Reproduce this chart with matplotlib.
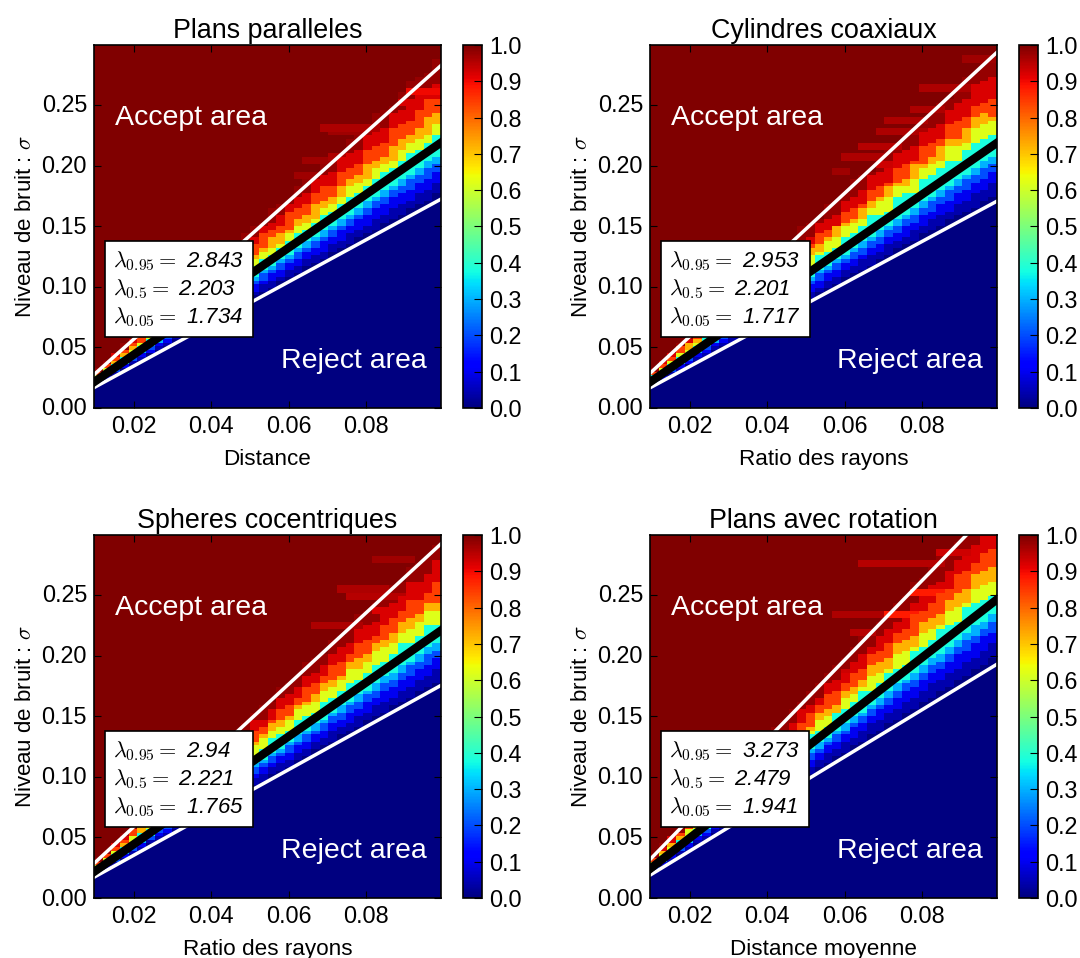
import numpy as np
import matplotlib
matplotlib.use('Agg')
import matplotlib.pyplot as plt
from matplotlib.transforms import ScaledTranslation

plt.rcParams['font.family'] = ['Liberation Sans', 'DejaVu Sans']
plt.rcParams['mathtext.fontset'] = 'cm'

titles = ['Plans paralleles', 'Cylindres coaxiaux', 'Spheres cocentriques', 'Plans avec rotation']
xlabels = ['Distance', 'Ratio des rayons', 'Ratio des rayons', 'Distance moyenne']

lambda_95 = [2.843, 2.953, 2.94, 3.273]
lambda_50 = [2.203, 2.201, 2.221, 2.479]
lambda_05 = [1.734, 1.717, 1.765, 1.941]
lambda_txt = [['2.843', '2.203', '1.734'], ['2.953', '2.201', '1.717'],
              ['2.94', '2.221', '1.765'], ['3.273', '2.479', '1.941']]

xticks = [0.02, 0.04, 0.06, 0.08]
yticks = [0.0, 0.05, 0.10, 0.15, 0.20, 0.25]
cticks = [0.0, 0.1, 0.2, 0.3, 0.4, 0.5, 0.6, 0.7, 0.8, 0.9, 1.0]

# acceptance level of each band, lists below give the sigma row (0.003 per row)
# where the band starts in each of the 40 columns
levels = [0.04, 0.10, 0.20, 0.30, 0.38, 0.62, 0.72, 0.84, 0.92, 0.98, 1.0]

rows_a = [
    [7,8,9,11,12,13,15,16,17,19,20,21,23,24,25,27,28,29,31,32,33,35,36,37,39,40,41,43,44,45,47,48,49,51,52,53,55,56,57,59],
    [7,8,10,11,13,14,15,17,18,20,21,22,24,25,27,28,29,31,32,34,35,36,38,39,41,42,43,45,46,48,49,50,52,53,55,56,57,59,60,62],
    [7,9,10,12,13,15,16,18,19,21,22,24,25,26,28,29,31,32,34,35,37,38,40,41,43,44,46,47,49,50,52,53,55,56,58,59,60,62,63,65],
    [8,9,11,12,14,15,17,18,20,21,23,24,26,27,29,30,32,34,35,37,38,40,41,43,44,46,47,49,50,52,53,55,57,58,60,61,63,64,66,67],
    [8,9,11,12,14,16,17,19,20,22,24,25,27,28,30,31,33,35,36,38,39,41,42,44,46,47,49,50,52,53,55,57,58,60,61,63,64,66,68,69],
    [8,10,12,14,15,17,19,20,22,24,25,27,29,31,32,34,36,37,39,41,42,44,46,48,49,51,53,54,56,58,59,61,63,65,66,68,70,71,73,75],
    [9,11,12,14,16,18,20,21,23,24,27,28,30,31,34,35,37,38,41,43,44,45,48,50,51,52,55,56,58,61,62,63,66,67,68,71,73,74,75,78],
    [9,11,13,15,17,18,20,22,25,26,27,30,31,33,36,37,38,41,42,44,47,48,49,52,53,56,57,58,61,63,64,67,68,69,72,74,75,77,80,81],
    [10,12,14,16,18,20,21,24,25,27,30,31,32,36,37,39,42,42,45,48,49,50,54,55,56,59,61,61,65,66,67,71,72,73,77,78,79,82,85,85],
    [10,12,15,16,19,20,23,25,28,29,31,34,35,37,40,41,43,46,47,50,51,53,56,58,59,63,64,65,69,70,71,75,76,77,81,82,83,87,88,89],
    [11,13,15,18,19,22,24,26,29,30,32,35,37,38,42,43,45,48,50,51,55,56,57,61,63,64,68,69,70,74,76,77,81,82,83,87,90,91,92,96],
]
rows_b = [
    [7,8,9,10,12,13,14,16,17,18,19,21,22,24,25,26,28,29,30,32,33,34,36,37,38,39,41,42,44,45,46,48,49,50,52,53,54,55,57,58],
    [7,8,10,11,12,14,15,17,18,20,21,22,24,25,27,28,29,31,32,33,35,36,38,39,41,42,43,45,46,47,49,50,52,53,54,56,57,59,60,62],
    [7,9,10,12,13,15,16,18,19,20,22,23,25,26,28,29,31,32,34,35,37,38,40,41,42,44,45,47,48,50,51,53,54,56,57,59,60,62,63,65],
    [8,9,11,12,14,15,17,18,20,21,23,24,26,27,29,30,32,34,35,37,38,40,41,43,44,46,47,49,50,52,53,55,57,58,60,61,63,64,66,67],
    [8,9,11,12,14,16,17,19,20,22,24,25,27,28,30,31,33,35,36,38,39,41,42,44,46,47,49,50,52,53,55,57,58,60,61,63,64,66,68,69],
    [9,10,12,14,15,17,20,21,22,24,27,27,29,32,33,33,37,38,39,42,43,44,47,48,50,53,53,54,58,59,59,63,64,66,68,68,71,73,74,75],
    [9,11,13,15,16,18,21,22,24,26,27,30,31,33,36,36,38,41,42,43,46,47,50,51,52,55,57,58,61,61,63,66,67,68,72,72,73,77,78,79],
    [9,11,13,15,18,19,21,23,25,26,28,31,32,33,37,37,40,41,44,45,47,50,51,52,55,57,58,61,62,63,67,67,69,72,74,74,77,80,81,80],
    [10,12,14,17,18,20,23,23,26,27,30,31,33,36,37,39,42,43,45,48,49,50,54,55,56,60,61,62,66,67,68,72,73,74,78,79,80,83,84,85],
    [10,13,15,17,19,22,23,25,28,29,32,33,35,39,40,41,45,46,47,51,52,53,57,58,60,64,65,66,70,71,72,76,77,78,82,84,85,89,90,91],
    [11,13,15,18,20,23,24,26,30,31,33,36,37,39,43,44,46,50,51,52,56,57,59,63,64,65,69,71,72,76,77,79,83,84,85,89,91,92,96,97],
]
rows_c = [
    [7,8,9,11,12,13,15,16,17,19,20,22,23,24,26,27,28,30,31,32,34,35,36,38,39,41,42,43,45,46,47,49,50,51,53,54,55,57,58,59],
    [7,8,10,11,13,14,16,17,18,20,21,23,24,26,27,28,30,31,33,34,36,37,38,40,41,43,44,46,47,48,50,51,53,54,55,57,58,60,61,63],
    [7,9,10,12,13,15,16,18,19,21,22,24,25,27,28,30,31,33,34,36,37,39,40,42,43,45,46,48,49,51,52,54,55,57,58,60,61,63,64,66],
    [8,9,11,12,14,15,17,19,20,22,23,25,26,28,29,31,32,34,36,37,39,40,42,43,45,46,48,50,51,53,54,56,57,59,60,62,64,65,67,68],
    [8,9,11,13,14,16,17,19,21,22,24,25,27,29,30,32,33,35,37,38,40,41,43,45,46,48,49,51,53,54,56,57,59,61,62,64,65,67,69,70],
    [8,10,12,14,15,18,19,21,23,24,26,28,29,31,34,34,36,39,39,41,44,45,46,49,50,51,54,55,57,59,60,62,64,65,67,70,70,72,75,75],
    [9,11,13,14,17,18,20,22,25,25,27,30,31,33,36,36,38,41,42,44,46,47,49,52,53,54,57,58,60,63,63,65,68,69,70,73,74,76,79,79],
    [9,11,13,15,17,20,21,22,25,26,28,31,32,34,36,38,39,42,43,45,48,49,50,53,54,56,59,60,61,65,66,67,70,71,73,76,77,78,81,81],
    [10,12,14,16,19,20,22,24,26,27,30,31,34,35,37,40,41,43,46,47,49,52,53,55,58,59,61,64,65,67,70,71,72,75,77,79,82,82,84,87],
    [10,12,15,17,19,21,24,25,27,30,31,33,36,37,39,42,43,45,49,49,52,55,56,58,61,62,64,67,69,70,74,75,76,80,81,83,87,87,89,93],
    [11,13,15,18,20,22,25,26,28,32,33,35,38,39,41,45,46,48,51,53,54,58,59,61,65,66,67,71,72,74,78,79,81,84,86,87,91,92,94,97],
]
rows_d = [
    [7,9,10,12,13,15,16,18,19,21,22,24,25,27,28,30,31,33,34,36,37,39,40,42,43,45,46,48,49,51,52,54,55,57,58,60,61,63,64,66],
    [8,9,11,13,14,16,17,19,21,22,24,25,27,29,30,32,33,35,36,38,40,41,43,44,46,48,49,51,52,54,55,57,59,60,62,63,65,66,68,70],
    [8,10,12,13,15,17,18,20,22,23,25,27,28,30,32,33,35,37,38,40,42,43,45,47,48,50,52,53,55,57,58,60,62,63,65,67,68,70,72,73],
    [9,10,12,14,15,17,19,21,22,24,26,27,29,31,33,34,36,38,40,41,43,45,46,48,50,52,53,55,57,59,60,62,64,65,67,69,71,72,74,76],
    [9,11,12,14,16,18,19,21,23,25,27,28,30,32,34,35,37,39,41,43,44,46,48,50,51,53,55,57,59,60,62,64,66,67,69,71,73,75,76,78],
    [9,11,13,16,17,19,22,23,25,28,29,31,34,34,36,39,40,42,45,46,47,51,52,54,57,57,59,62,63,64,68,69,71,74,75,76,80,81,82,83],
    [10,12,14,16,19,20,22,25,26,28,31,32,34,37,38,40,43,44,46,49,50,51,55,56,58,61,62,63,67,68,69,73,74,75,79,80,81,85,86,87],
    [10,13,15,17,19,22,23,25,28,29,32,33,35,39,40,41,45,46,47,51,52,53,57,58,60,64,65,66,70,71,72,76,77,78,82,84,85,89,90,91],
    [11,13,15,18,20,23,24,26,29,31,34,35,37,40,42,45,46,48,51,53,56,57,59,62,63,67,68,70,73,74,78,79,81,84,85,89,90,92,95,96],
    [11,14,17,18,21,24,25,28,31,32,35,38,39,42,45,46,48,52,53,55,59,60,62,65,67,69,72,74,76,79,81,83,86,87,90,93,94,97,100,100],
    [12,15,17,19,22,24,27,29,32,34,37,39,42,44,47,49,52,54,57,59,62,64,66,69,72,73,76,79,81,83,87,88,91,94,95,98,100,100,100,100],
]
panel_rows = [rows_a, rows_b, rows_c, rows_d]

# horizontal streaks seen in the noisy part: sigma, x from, x to, level
streaks_a = [[0.229, 0.0694, 0.0817, 0.96], [0.226, 0.0720, 0.0800, 0.97], [0.207, 0.0715, 0.0860, 0.96],
             [0.202, 0.0640, 0.0715, 0.97], [0.191, 0.0620, 0.0670, 0.97], [0.261, 0.0925, 0.0980, 0.90],
             [0.252, 0.0890, 0.0980, 0.92]]
streaks_b = [[0.287, 0.0925, 0.0985, 0.97], [0.262, 0.0805, 0.0908, 0.96], [0.244, 0.0770, 0.0855, 0.96],
             [0.235, 0.0720, 0.0810, 0.96], [0.226, 0.0700, 0.0830, 0.96], [0.216, 0.0655, 0.0745, 0.95],
             [0.207, 0.0603, 0.0695, 0.96], [0.199, 0.0700, 0.0780, 0.93], [0.194, 0.0585, 0.0612, 0.97]]
streaks_c = [[0.278, 0.0827, 0.0920, 0.97], [0.254, 0.0725, 0.0843, 0.96], [0.248, 0.0758, 0.0905, 0.95],
             [0.236, 0.0827, 0.0960, 0.92], [0.2235, 0.0675, 0.0776, 0.96], [0.196, 0.0725, 0.0800, 0.92]]
streaks_d = [[0.275, 0.0655, 0.0838, 0.95], [0.2335, 0.0572, 0.0727, 0.96], [0.232, 0.0710, 0.0850, 0.88],
             [0.217, 0.0630, 0.0680, 0.95], [0.250, 0.0787, 0.0915, 0.88], [0.285, 0.0856, 0.0967, 0.93],
             [0.186, 0.0606, 0.0667, 0.93], [0.203, 0.0667, 0.0720, 0.92]]
panel_streaks = [streaks_a, streaks_b, streaks_c, streaks_d]

n_cols = 40
n_rows = 100
x_edges = np.linspace(0.0097, 0.0994, n_cols + 1)
y_edges = np.linspace(0, 0.3, n_rows + 1)

W, H = 1080, 958
fig = plt.figure(figsize=(W / 100, H / 100), dpi=100)
up = ScaledTranslation(0, 1.5 / 100, fig.dpi_scale_trans)

ax_left = [94, 650, 94, 650]
ax_top = [45, 45, 535, 535]
ax_w, ax_h = 347, 363

for i in range(4):
    ax = fig.add_axes([ax_left[i] / W, 1 - (ax_top[i] + ax_h) / H, ax_w / W, ax_h / H])

    z = np.zeros((n_rows, n_cols))
    for level, band in zip(levels, panel_rows[i]):
        for col in range(n_cols):
            z[band[col]:, col] = level
    for sig, x0, x1, level in panel_streaks[i]:
        row = np.searchsorted(y_edges, sig) - 1
        c0 = np.searchsorted(x_edges, x0) - 1
        c1 = np.searchsorted(x_edges, x1)
        z[row:row + 2, c0:c1] = np.minimum(z[row:row + 2, c0:c1], level)
    mesh = ax.pcolormesh(x_edges, y_edges, z, cmap='jet', vmin=0, vmax=1)

    xl = np.array([0.0097, 0.0994])
    ax.plot(xl, lambda_95[i] * xl, color='white', lw=2.5)
    ax.plot(xl, lambda_05[i] * xl, color='white', lw=2.5)
    ax.plot(xl, lambda_50[i] * xl, color='black', lw=6)

    ax.set_xlim(0.0097, 0.0994)
    ax.set_ylim(0, 0.2995)
    ax.set_xticks(xticks)
    ax.set_xticklabels(['0.02', '0.04', '0.06', '0.08'])
    ax.set_yticks(yticks)
    ax.set_yticklabels(['0.00', '0.05', '0.10', '0.15', '0.20', '0.25'])
    ax.tick_params(direction='in', length=5, width=0.8, top=True, right=True, labelsize=16.8, pad=5)
    for lab in ax.get_yticklabels():
        lab.set_transform(lab.get_transform() + up)
    for s in ax.spines.values():
        s.set_linewidth(1.2)

    ax.set_title(titles[i], fontsize=19.4, pad=5)
    ax.set_xlabel(xlabels[i], fontsize=16.2, labelpad=8)
    ax.set_ylabel('Niveau de bruit : $\\sigma$', fontsize=16, labelpad=4)

    ax.text(0.28, 0.799, 'Accept area', color='white', fontsize=20.5, ha='center', va='center', transform=ax.transAxes)
    ax.text(0.748, 0.130, 'Reject area', color='white', fontsize=20.5, ha='center', va='center', transform=ax.transAxes)

    t = lambda_txt[i]
    label = '$\\lambda_{0.95} =$ %s\n$\\lambda_{0.5} =$ %s\n$\\lambda_{0.05} =$ %s' % (t[0], t[1], t[2])
    ax.text(0.056, 0.327, label, fontsize=16, style='italic', ha='left', va='center',
            transform=ax.transAxes, linespacing=1.22,
            bbox=dict(facecolor='white', edgecolor='black', linewidth=1.2, boxstyle='square,pad=0.38'))

    cax = fig.add_axes([(ax_left[i] + 369) / W, 1 - (ax_top[i] + ax_h) / H, 19 / W, ax_h / H])
    cb = fig.colorbar(mesh, cax=cax)
    cb.set_ticks(cticks)
    cb.ax.tick_params(direction='in', length=6, width=0.8, labelsize=16.8, pad=5)
    cb.outline.set_linewidth(1.2)

fig.savefig('out.png', dpi=100)
